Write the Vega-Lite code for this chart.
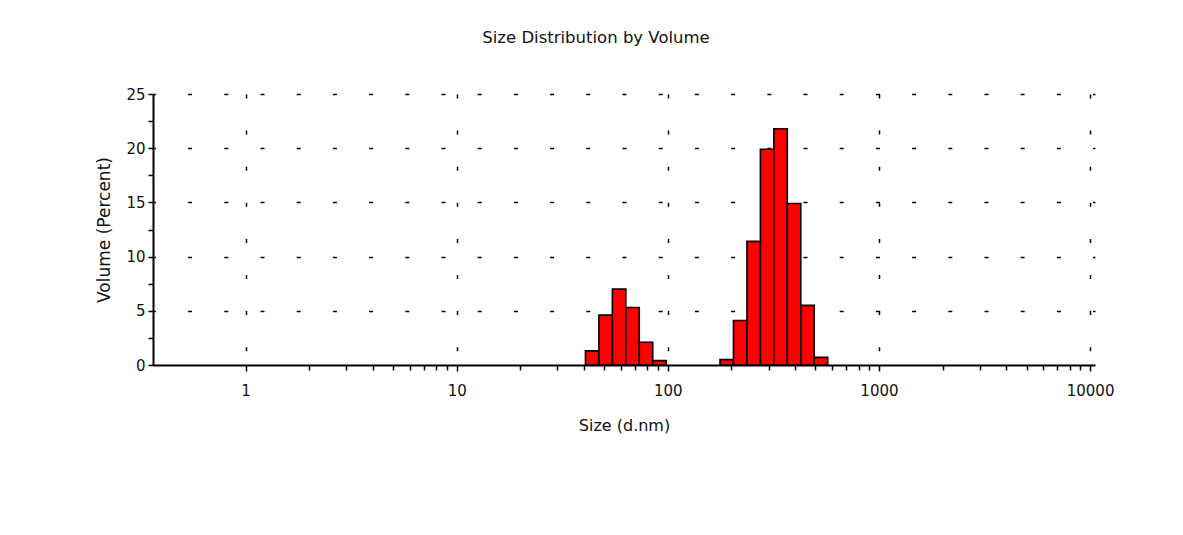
{
  "$schema": "https://vega.github.io/schema/vega-lite/v6.json",
  "width": 942,
  "height": 271,
  "autosize": {"type": "none"},
  "padding": {"left": 153, "top": 94, "right": 88, "bottom": 170},
  "background": "white",
  "config": {"view": {"stroke": null}, "font": "DejaVu Sans"},
  "title": {
    "text": "Size Distribution by Volume",
    "font": "DejaVu Sans",
    "fontSize": 16.5,
    "fontWeight": "normal",
    "color": "#111111",
    "anchor": "middle",
    "frame": "group",
    "dx": -28,
    "offset": 28,
    "baseline": "alphabetic"
  },
  "data": {
    "values": [
      {"size": 43.82, "lo": 40.72, "hi": 47.15, "volume": 1.3},
      {"size": 50.75, "lo": 47.15, "hi": 54.61, "volume": 4.6},
      {"size": 58.77, "lo": 54.61, "hi": 63.24, "volume": 7.0},
      {"size": 68.06, "lo": 63.24, "hi": 73.24, "volume": 5.3},
      {"size": 78.82, "lo": 73.24, "hi": 84.82, "volume": 2.1},
      {"size": 91.28, "lo": 84.82, "hi": 98.23, "volume": 0.4},
      {"size": 190.1, "lo": 176.66, "hi": 204.57, "volume": 0.5},
      {"size": 220.2, "lo": 204.57, "hi": 236.96, "volume": 4.1},
      {"size": 255.0, "lo": 236.96, "hi": 274.41, "volume": 11.4},
      {"size": 295.3, "lo": 274.41, "hi": 317.77, "volume": 19.9},
      {"size": 342.0, "lo": 317.77, "hi": 368.03, "volume": 21.8},
      {"size": 396.1, "lo": 368.03, "hi": 426.25, "volume": 14.9},
      {"size": 458.7, "lo": 426.25, "hi": 493.61, "volume": 5.5},
      {"size": 531.2, "lo": 493.61, "hi": 571.62, "volume": 0.7}
    ]
  },
  "mark": {"type": "rect", "fill": "#ff0000", "stroke": "#000000", "strokeWidth": 1.6, "clip": false},
  "encoding": {
    "x": {
      "field": "lo",
      "type": "quantitative",
      "scale": {"type": "log", "domain": [0.3643, 10550], "nice": false},
      "axis": {
        "title": "Size (d.nm)",
        "values": [1,2,3,4,5,6,7,8,9,10,20,30,40,50,60,70,80,90,100,200,300,400,500,600,700,800,900,1000,2000,3000,4000,5000,6000,7000,8000,9000,10000],
        "format": "d",
        "labelExpr": "indexof([1,10,100,1000,10000], datum.value) >= 0 ? datum.label : ''",
        "labelFont": "DejaVu Sans",
        "labelFontSize": 15,
        "labelColor": "#111111",
        "labelPadding": 12,
        "labelFlush": false,
        "labelOverlap": false,
        "titleFont": "DejaVu Sans",
        "titleFontSize": 16,
        "titleFontWeight": "normal",
        "titleColor": "#111111",
        "titlePadding": 19,
        "domainColor": "#000000",
        "domainWidth": 2,
        "tickColor": "#000000",
        "tickWidth": 1.5,
        "tickSize": {"condition": {"test": "indexof([1,10,100,1000,10000], datum.value) >= 0", "value": 6}, "value": 5},
        "grid": true,
        "gridColor": "#000000",
        "gridWidth": 1.5,
        "gridDash": [4, 32.1],
        "gridDashOffset": 0,
        "gridOpacity": {"condition": {"test": "indexof([1,10,100,1000,10000], datum.value) >= 0", "value": 1}, "value": 0}
      }
    },
    "x2": {"field": "hi"},
    "y": {
      "field": "volume",
      "type": "quantitative",
      "scale": {"domain": [0, 25], "nice": false, "zero": true},
      "axis": {
        "title": "Volume (Percent)",
        "values": [0, 2.5, 5, 7.5, 10, 12.5, 15, 17.5, 20, 22.5, 25],
        "labelExpr": "datum.value % 5 === 0 ? datum.label : ''",
        "labelFont": "DejaVu Sans",
        "labelFontSize": 15,
        "labelColor": "#111111",
        "labelPadding": 3,
        "labelFlush": false,
        "labelOverlap": false,
        "titleFont": "DejaVu Sans",
        "titleFontSize": 17,
        "titleFontWeight": "normal",
        "titleColor": "#111111",
        "titlePadding": 12,
        "domainColor": "#000000",
        "domainWidth": 2,
        "tickColor": "#000000",
        "tickWidth": 1.5,
        "tickSize": 5,
        "grid": true,
        "gridColor": "#000000",
        "gridWidth": 1.5,
        "gridDash": [4, 32.2],
        "gridDashOffset": 1.6,
        "gridOpacity": {"condition": {"test": "datum.value % 5 === 0 && datum.value > 0", "value": 1}, "value": 0}
      }
    },
    "y2": {"datum": 0}
  }
}
